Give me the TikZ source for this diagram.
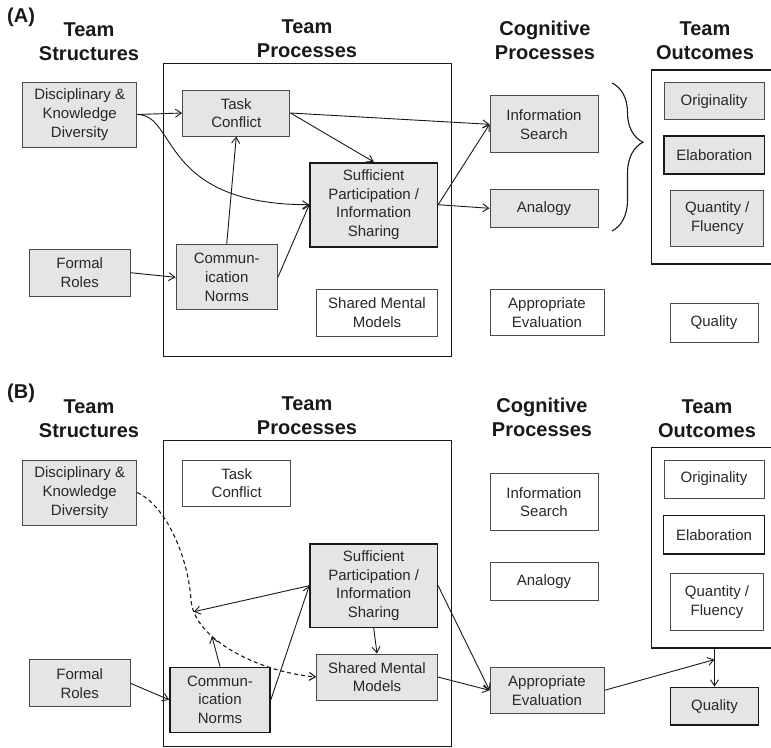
\documentclass[tikz,border=0pt]{standalone}
\usepackage{fontspec}
\setmainfont{Liberation Sans}
\usetikzlibrary{arrows.meta,decorations.pathreplacing}
\definecolor{boxfill}{RGB}{229,229,229}
\definecolor{edgecol}{RGB}{75,75,75}
\definecolor{inkcol}{RGB}{25,25,25}
\definecolor{txtcol}{RGB}{40,40,40}
\newcommand\boxfont{\fontsize{15}{18.7}\selectfont}
\newcommand\headfont{\fontsize{20}{24}\selectfont\bfseries}
\tikzset{
  gbox/.style={draw=edgecol, fill=boxfill, line width=1pt, inner sep=0pt, align=center, font=\boxfont, text=txtcol},
  wbox/.style={gbox, fill=white},
  gboxb/.style={gbox, draw=inkcol, line width=1.6pt},
  wboxb/.style={wbox, draw=inkcol, line width=1.6pt},
  sz/.style 2 args={minimum width=#1pt, minimum height=#2pt},
  frame/.style={draw=inkcol, line width=1.4pt, inner sep=0pt, anchor=north west},
  head/.style={font=\headfont, align=center, anchor=north, inner sep=0pt, text=inkcol},
  panel/.style={font=\headfont, anchor=base west, inner sep=0pt, text=inkcol},
  arr/.style={-{Straight Barb[length=6pt,width=8pt]}, line width=0.9pt, draw=inkcol},
  dasharr/.style={arr, line width=1.1pt, dash pattern=on 4pt off 3pt},
  curly/.style={draw=inkcol, line width=1.1pt, decorate, decoration={brace, amplitude=31pt, aspect=0.4}}
}
\begin{document}
\begin{tikzpicture}[x=1pt, y=-1pt]
\useasboundingbox (0,0) rectangle (771,747);

% ---------------- Panel A ----------------
\node[panel] (labA) at (7,22) {(A)};
\node[head] (hsA) at (89,22.7) {Team\\Structures};
\node[head] (hpA) at (307,19.3) {Team\\Processes};
\node[head] (hcA) at (545,20.7) {Cognitive\\Processes};
\node[head] (hoA) at (705,21.7) {Team\\Outcomes};

\node[frame, sz={288}{293.3}] (tpA) at (162.7,62.7) {};
\node[frame, sz={140}{194}] (obA) at (650.7,69.3) {};

\node[gbox, sz={114}{65}] (dA) at (79.7,114.5) {Disciplinary \&\\Knowledge\\Diversity};
\node[gbox, sz={100.7}{46.7}] (frA) at (79.7,272.7) {Formal\\Roles};
\node[gbox, sz={107.3}{46}] (tcA) at (236.3,113) {Task\\Conflict};
\node[gboxb, sz={127.3}{84}] (spA) at (373.7,204.7) {Sufficient\\Participation /\\Information\\Sharing};
\node[gbox, sz={101.3}{65.3}] (cnA) at (226.7,277.3) {Commun-\\ication\\Norms};
\node[wbox, sz={120.7}{46.7}] (smA) at (377,312.7) {Shared Mental\\Models};
\node[gbox, sz={108}{56.7}] (isA) at (544,124.3) {Information\\Search};
\node[gbox, sz={108}{38}] (anA) at (544,208.3) {Analogy};
\node[wbox, sz={114}{46}] (aeA) at (547,312.3) {Appropriate\\Evaluation};
\node[gbox, sz={100}{37.3}] (orA) at (714,101.3) {Originality};
\node[gboxb, sz={100.7}{38}] (elA) at (714.3,155) {Elaboration};
\node[gbox, sz={93.3}{56}] (qfA) at (717.3,218) {Quantity /\\Fluency};
\node[wbox, sz={88}{39}] (quA) at (714,322.5) {Quality};

\draw[curly] (612,83) -- (612,231);

\draw[arr] (dA.east) -- (tcA.west);
\draw[arr] (dA.east) .. controls +(40,0) and +(-150,0) .. (spA.west);
\draw[arr] (tcA.east) -- (isA.west);
\draw[arr] (tcA.east) -- (spA.north);
\draw[arr] (cnA.north) -- (tcA.south);
\draw[arr] (cnA.east) -- (spA.west);
\draw[arr] (frA.east) -- (cnA.west);
\draw[arr] (spA.east) -- (isA.west);
\draw[arr] (spA.east) -- (anA.west);

% ---------------- Panel B ----------------
\node[panel] (labB) at (7,398) {(B)};
\node[head] (hsB) at (89,400) {Team\\Structures};
\node[head] (hpB) at (307,396.7) {Team\\Processes};
\node[head] (hcB) at (542,398.3) {Cognitive\\Processes};
\node[head] (hoB) at (707,399.3) {Team\\Outcomes};

\node[frame, sz={288}{305.5}] (tpB) at (162.7,440) {};
\node[frame, sz={140}{200.6}] (obB) at (650.7,446.7) {};

\node[gbox, sz={114}{65}] (dB) at (79.7,492.5) {Disciplinary \&\\Knowledge\\Diversity};
\node[gbox, sz={100.7}{46.7}] (frB) at (79.7,683.3) {Formal\\Roles};
\node[wbox, sz={108}{46}] (tcB) at (236.7,483) {Task\\Conflict};
\node[gboxb, sz={127.3}{83.3}] (spB) at (373.7,585.7) {Sufficient\\Participation /\\Information\\Sharing};
\node[gbox, sz={120.7}{46}] (smB) at (377,677) {Shared Mental\\Models};
\node[gboxb, sz={100}{65}] (cnB) at (220,699.8) {Commun-\\ication\\Norms};
\node[wbox, sz={108}{57.4}] (isB) at (544,502) {Information\\Search};
\node[wbox, sz={108}{38}] (anB) at (544,581.7) {Analogy};
\node[gbox, sz={114}{46}] (aeB) at (547,690.3) {Appropriate\\Evaluation};
\node[wbox, sz={100}{38}] (orB) at (714,479) {Originality};
\node[wboxb, sz={100.7}{38.3}] (elB) at (714,534.8) {Elaboration};
\node[wbox, sz={93.3}{57.4}] (qfB) at (717,602) {Quantity /\\Fluency};
\node[gboxb, sz={87.7}{37.7}] (quB) at (714.5,706.2) {Quality};

\draw[dasharr] (dB.east) .. controls (165,505) and (188,555) .. (191,600)
   .. controls (194,640) and (260,672) .. (smB.west)
   coordinate[pos=0.1] (dk1) coordinate[pos=0.33] (dk2);
\draw[arr] (spB.west) -- (dk1);
\draw[arr] (cnB.north) -- (dk2);
\draw[arr] (cnB.east) -- (spB.west);
\draw[arr] (frB.east) -- (cnB.west);
\draw[arr] (spB.south) -- (smB.north);
\draw[arr] (spB.east) -- (aeB.west);
\draw[arr] (smB.east) -- (aeB.west);
\draw[arr] (quB.north |- obB.south) -- (quB.north);
\path (quB.north) ++(0,-27) coordinate (qin);
\draw[arr] (aeB.east) -- (qin);
\end{tikzpicture}
\end{document}
